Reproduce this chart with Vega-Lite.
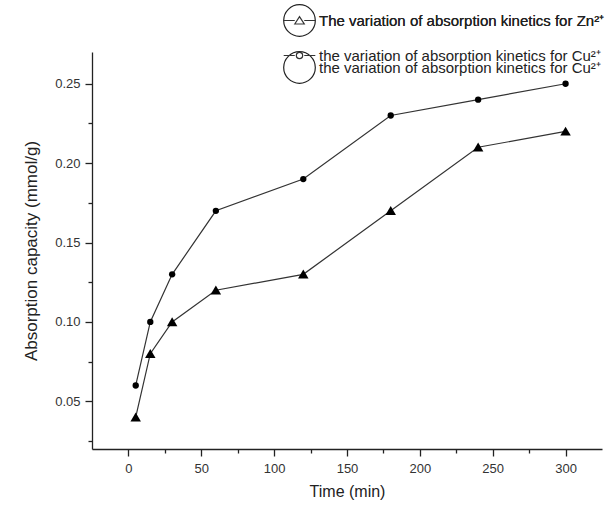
{
  "$schema": "https://vega.github.io/schema/vega-lite/v6.json",
  "autosize": {"type": "none"},
  "width": 510,
  "height": 397,
  "padding": {"left": 92, "top": 52, "right": 13, "bottom": 58},
  "background": "white",
  "config": {
    "view": {"stroke": null},
    "font": "Liberation Sans",
    "axis": {"grid": false, "domainColor": "#222", "tickColor": "#222", "labelColor": "#333", "titleColor": "#222", "labelFont": "Liberation Sans", "titleFont": "Liberation Sans", "titleFontWeight": "normal", "domainWidth": 1.3, "tickWidth": 1.3}
  },
  "data": {"values": [
    {"time": 5, "cap": 0.04, "series": "Zn", "name": "The variation of absorption kinetics for Zn²⁺"},
    {"time": 15, "cap": 0.08, "series": "Zn", "name": "The variation of absorption kinetics for Zn²⁺"},
    {"time": 30, "cap": 0.10, "series": "Zn", "name": "The variation of absorption kinetics for Zn²⁺"},
    {"time": 60, "cap": 0.12, "series": "Zn", "name": "The variation of absorption kinetics for Zn²⁺"},
    {"time": 120, "cap": 0.13, "series": "Zn", "name": "The variation of absorption kinetics for Zn²⁺"},
    {"time": 180, "cap": 0.17, "series": "Zn", "name": "The variation of absorption kinetics for Zn²⁺"},
    {"time": 240, "cap": 0.21, "series": "Zn", "name": "The variation of absorption kinetics for Zn²⁺"},
    {"time": 300, "cap": 0.22, "series": "Zn", "name": "The variation of absorption kinetics for Zn²⁺"},
    {"time": 5, "cap": 0.06, "series": "Cu", "name": "the variation of absorption kinetics for Cu²⁺"},
    {"time": 15, "cap": 0.10, "series": "Cu", "name": "the variation of absorption kinetics for Cu²⁺"},
    {"time": 30, "cap": 0.13, "series": "Cu", "name": "the variation of absorption kinetics for Cu²⁺"},
    {"time": 60, "cap": 0.17, "series": "Cu", "name": "the variation of absorption kinetics for Cu²⁺"},
    {"time": 120, "cap": 0.19, "series": "Cu", "name": "the variation of absorption kinetics for Cu²⁺"},
    {"time": 180, "cap": 0.23, "series": "Cu", "name": "the variation of absorption kinetics for Cu²⁺"},
    {"time": 240, "cap": 0.24, "series": "Cu", "name": "the variation of absorption kinetics for Cu²⁺"},
    {"time": 300, "cap": 0.25, "series": "Cu", "name": "the variation of absorption kinetics for Cu²⁺"}
  ]},
  "encoding": {
    "x": {"field": "time", "type": "quantitative",
      "scale": {"domain": [-25, 325], "nice": false, "zero": false},
      "axis": {"title": "Time (min)", "titleFontSize": 16, "titlePadding": 8, "labelFontSize": 13, "labelPadding": 6,
        "values": [0,25,50,75,100,125,150,175,200,225,250,275,300],
        "labelExpr": "datum.value % 50 === 0 ? datum.label : ''",
        "tickSize": {"condition": {"test": "datum.value % 50 === 0", "value": 7}, "value": 4}}},
    "y": {"field": "cap", "type": "quantitative",
      "scale": {"domain": [0.02, 0.27], "nice": false, "zero": false},
      "axis": {"title": "Absorption capacity (mmol/g)", "titleFontSize": 17, "titlePadding": 14, "labelFontSize": 13, "labelPadding": 5, "format": ".2f",
        "values": [0.025,0.05,0.075,0.1,0.125,0.15,0.175,0.2,0.225,0.25],
        "labelExpr": "round(datum.value*1000) % 50 === 0 ? datum.label : ''",
        "tickSize": {"condition": {"test": "round(datum.value*1000) % 50 === 0", "value": 7}, "value": 4}}}
  },
  "resolve": {"scale": {"shape": "independent", "size": "independent"}, "legend": {"shape": "independent"}},
  "layer": [
    {"mark": {"type": "line", "color": "#333", "strokeWidth": 1.2},
     "encoding": {"detail": {"field": "series"}}},
    {"mark": {"type": "point", "filled": true, "color": "black", "opacity": 1},
     "encoding": {
       "shape": {"field": "series", "type": "nominal",
         "scale": {"domain": ["Zn", "Cu"], "range": ["M-1,0.8L0,-0.9L1,0.8Z", "circle"]},
         "legend": null},
       "size": {"field": "series", "type": "nominal", "scale": {"domain": ["Zn", "Cu"], "range": [110, 40]}, "legend": null}
     }},
    {"mark": {"type": "point", "opacity": 0},
     "encoding": {
       "color": {"field": "name", "type": "nominal",
         "scale": {"domain": ["The variation of absorption kinetics for Zn²⁺", "the variation of absorption kinetics for Cu²⁺"], "range": ["#222", "#222"]},
         "legend": {"orient": "none", "legendX": 191, "legendY": -48, "title": null,
           "labelFontSize": 15, "labelColor": "#222", "labelFont": "Liberation Sans", "labelLimit": 400, "symbolSize": 1000, "symbolStrokeWidth": 1.2,
           "symbolFillColor": "black", "symbolStrokeColor": "#333", "symbolOpacity": 1,
           "rowPadding": 10, "labelOffset": 3}},
       "shape": {"field": "name", "type": "nominal",
         "scale": {"domain": ["The variation of absorption kinetics for Zn²⁺", "the variation of absorption kinetics for Cu²⁺"],
           "range": ["M-1,0H-0.3M0.3,0H1M-0.3,0.22L0,-0.24L0.3,0.22Z", "M-1,0H-0.3M0.3,0H1M-0.2,0A0.2,0.2 0 1,0 0.2,0A0.2,0.2 0 1,0 -0.2,0Z"]},
         "legend": {"orient": "none", "legendX": 191, "legendY": -48, "title": null,
           "labelFontSize": 15, "labelColor": "#222", "labelFont": "Liberation Sans", "labelLimit": 400, "symbolSize": 1000, "symbolStrokeWidth": 1.2,
           "symbolFillColor": "black", "symbolStrokeColor": "#333", "symbolOpacity": 1,
           "rowPadding": 10, "labelOffset": 3}}
     }}
  ]
}
